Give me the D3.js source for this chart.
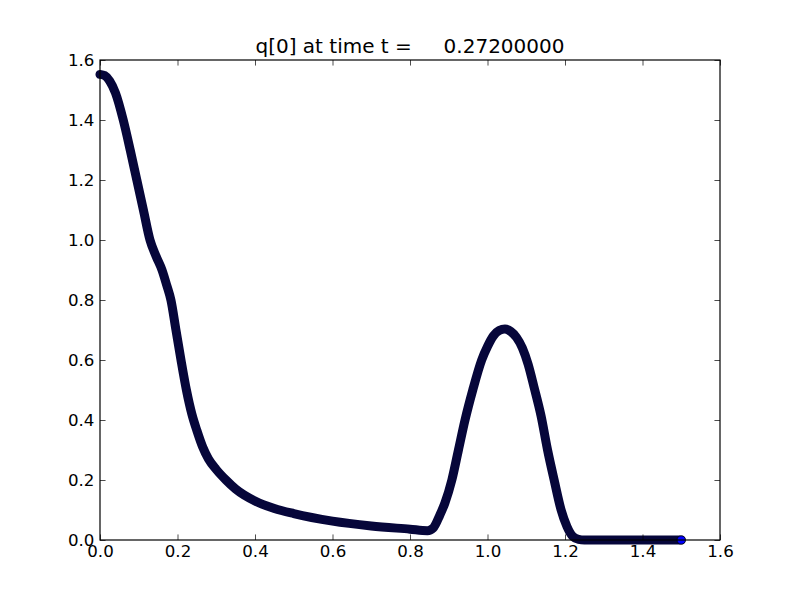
<!DOCTYPE html>
<html>
<head>
<meta charset="utf-8">
<script src="https://cdn.jsdelivr.net/npm/d3@7"></script>
<style>
    body { margin: 0; background: #fff; }
    svg { display: block; font-family: 'DejaVu Sans', sans-serif; }
    .tick line { stroke: #000; stroke-width: 0.7; }
    .tick text { font-size: 16.67px; fill: #000; }
</style>
</head>
<body>
<div id="content"></div>
<script>
// q[0], x positions in the domain
const XS = [0, 0.012, 0.025, 0.04, 0.06, 0.078, 0.095, 0.112, 0.129, 0.145, 0.16, 0.172, 0.183, 0.196,
    0.209, 0.223, 0.237, 0.25, 0.265, 0.28, 0.3, 0.325, 0.35, 0.4, 0.45, 0.5, 0.6, 0.7, 0.8, 0.845,
    0.86, 0.877, 0.89, 0.908, 0.925, 0.942, 0.962, 0.985, 1.0, 1.015, 1.03, 1.045, 1.06, 1.075,
    1.09, 1.105, 1.12, 1.138, 1.155, 1.172, 1.19, 1.205, 1.22, 1.235, 1.25, 1.3, 1.4, 1.5];
const QS = [1.552, 1.548, 1.53, 1.49, 1.40, 1.30, 1.20, 1.10, 1.00, 0.945, 0.90, 0.85, 0.80, 0.70,
    0.60, 0.50, 0.42, 0.365, 0.31, 0.27, 0.235, 0.2, 0.17, 0.13, 0.105, 0.088, 0.063, 0.047, 0.036, 0.031,
    0.04, 0.083, 0.123, 0.2, 0.3, 0.4, 0.5, 0.6, 0.645, 0.68, 0.698, 0.703, 0.695, 0.675,
    0.64, 0.585, 0.51, 0.415, 0.3, 0.2, 0.1, 0.045, 0.012, 0.002, 0, 0, 0, 0];
const X_TICKS = [0, 0.2, 0.4, 0.6, 0.8, 1.0, 1.2, 1.4, 1.6];
const Y_TICKS = [0, 0.2, 0.4, 0.6, 0.8, 1.0, 1.2, 1.4, 1.6];
const TITLE = 'q[0] at time t =     0.27200000';

function main() {
    var totalWidth = 800;
    var totalHeight = 600;
    var plotLeft = 100, plotRight = 720, plotTop = 60, plotBottom = 540;
    var tick = 5.56;

    var svg = d3.select('#content')
        .append('svg')
        .attr('width', totalWidth)
        .attr('height', totalHeight);

    var xScale = d3.scaleLinear().domain([0, 1.6]).range([plotLeft, plotRight]);
    var yScale = d3.scaleLinear().domain([0, 1.6]).range([plotBottom, plotTop]);

    var points = XS.map(function (x, i) { return [x, QS[i]]; });

    // dense markers in the original read as one thick dark band
    var line = d3.line()
        .x(function (d) { return xScale(d[0]); })
        .y(function (d) { return yScale(d[1]); })
        .curve(d3.curveMonotoneX);

    svg.append('path')
        .datum(points)
        .attr('d', line)
        .attr('fill', 'none')
        .attr('stroke', '#06063a')
        .attr('stroke-width', 9)
        .attr('stroke-linecap', 'round')
        .attr('stroke-linejoin', 'round');

    var last = points[points.length - 1];
    svg.append('circle')
        .attr('cx', xScale(last[0]))
        .attr('cy', yScale(last[1]))
        .attr('r', 4.1)
        .attr('fill', '#0000ff')
        .attr('stroke', '#000')
        .attr('stroke-width', 0.7);

    // axes, ticks pointing inwards on all four sides
    var fmt = d3.format('.1f');

    svg.append('g')
        .attr('class', 'x-axis')
        .attr('transform', 'translate(0, ' + plotBottom + ')')
        .call(d3.axisBottom(xScale).tickValues(X_TICKS).tickFormat(fmt)
            .tickSizeInner(-tick).tickSizeOuter(0).tickPadding(tick));

    svg.append('g')
        .attr('transform', 'translate(0, ' + plotTop + ')')
        .call(d3.axisTop(xScale).tickValues(X_TICKS).tickFormat('')
            .tickSizeInner(-tick).tickSizeOuter(0));

    svg.append('g')
        .attr('class', 'y-axis')
        .attr('transform', 'translate(' + plotLeft + ', 0)')
        .call(d3.axisLeft(yScale).tickValues(Y_TICKS).tickFormat(fmt)
            .tickSizeInner(-tick).tickSizeOuter(0).tickPadding(tick));

    svg.append('g')
        .attr('transform', 'translate(' + plotRight + ', 0)')
        .call(d3.axisRight(yScale).tickValues(Y_TICKS).tickFormat('')
            .tickSizeInner(-tick).tickSizeOuter(0));

    svg.selectAll('.domain').remove();
    svg.selectAll('g').attr('font-family', null).attr('font-size', null);

    svg.append('rect')
        .attr('x', plotLeft).attr('y', plotTop)
        .attr('width', plotRight - plotLeft).attr('height', plotBottom - plotTop)
        .attr('fill', 'none')
        .attr('stroke', '#000')
        .attr('stroke-width', 1.2);

    svg.append('text')
        .attr('x', (plotLeft + plotRight) / 2)
        .attr('y', 53)
        .attr('text-anchor', 'middle')
        .style('font-size', '20px')
        .style('white-space', 'pre')
        .text(TITLE);
}

main();
</script>
</body>
</html>
